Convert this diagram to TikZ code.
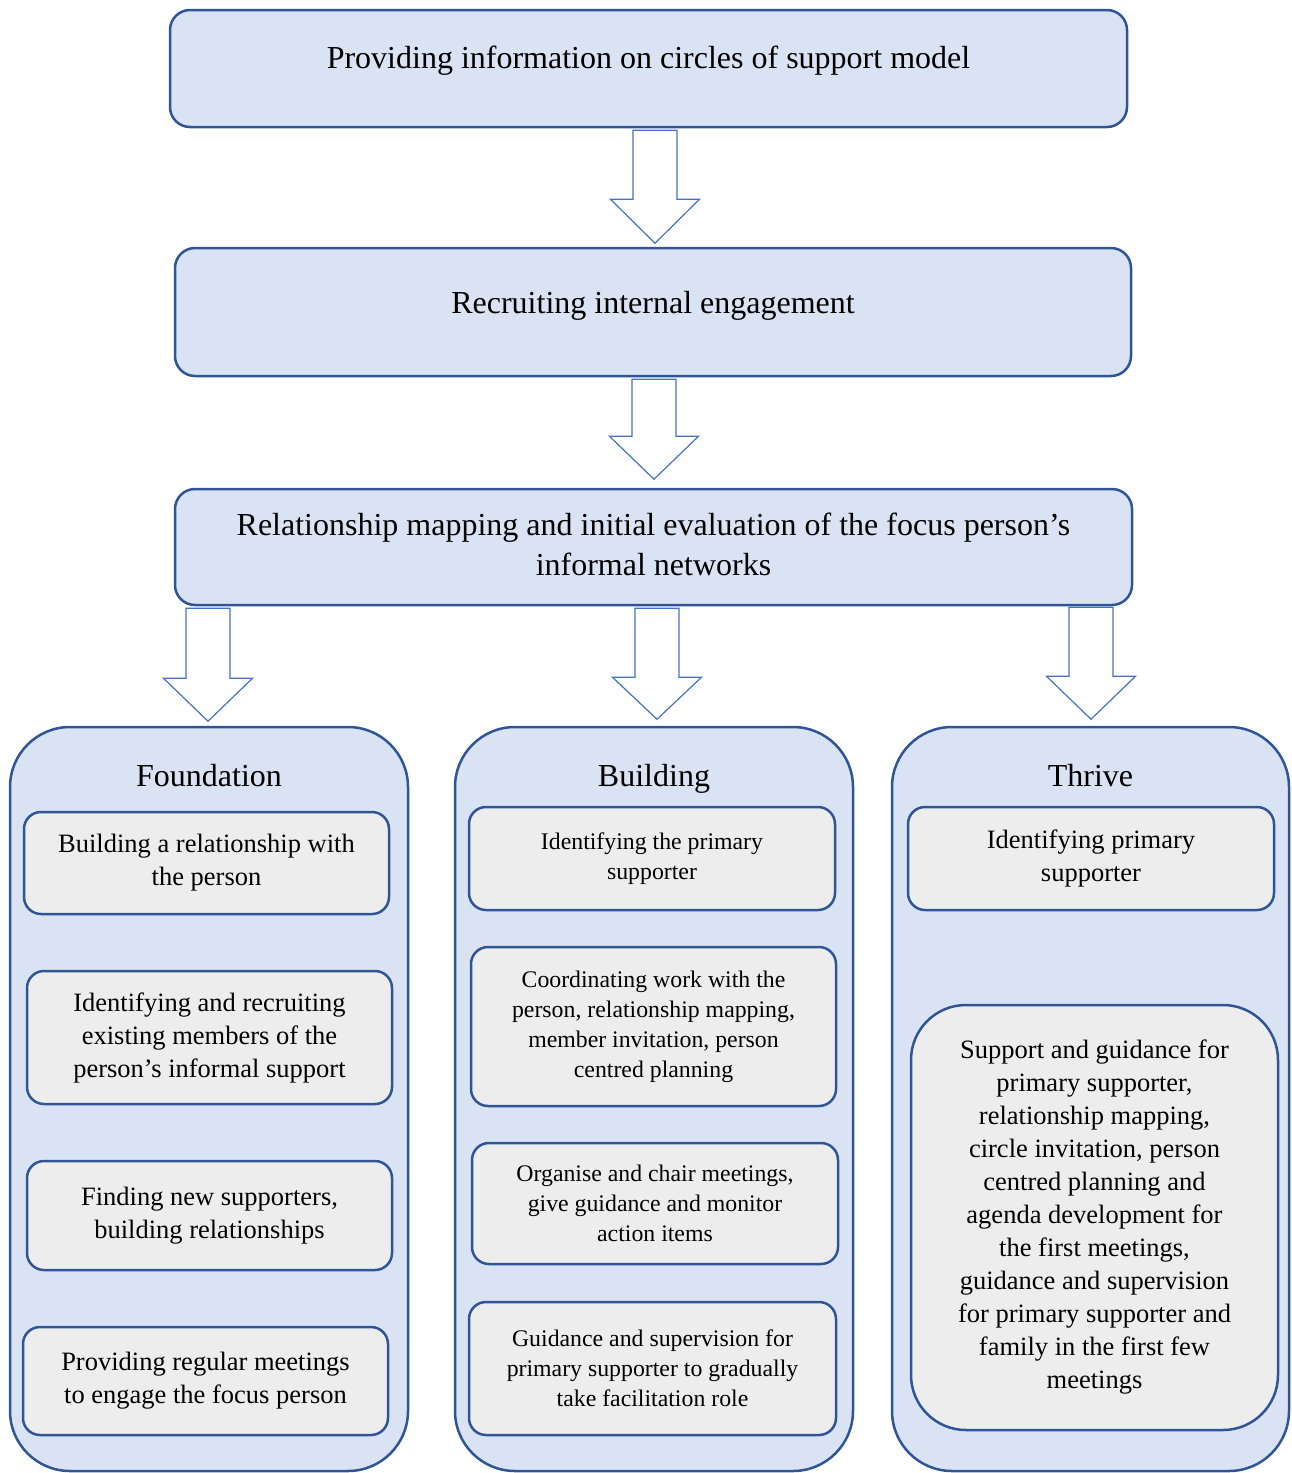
\documentclass[tikz,border=0pt]{standalone}
\usepackage{fontspec}
\setmainfont{Liberation Serif}
\usetikzlibrary{calc}
\definecolor{boxblue}{HTML}{DAE3F3}
\definecolor{itemgray}{HTML}{EDEDED}
\definecolor{bordc}{HTML}{2F5597}
\definecolor{arrowc}{HTML}{4472C4}
\newcommand\fbig{\fontsize{32}{40}\selectfont}
\newcommand\fmid{\fontsize{26.5}{33}\selectfont}
\newcommand\fsml{\fontsize{23.8}{30}\selectfont}
\tikzset{
  topbox/.style={draw=bordc, fill=boxblue, line width=2.5pt, rounded corners=20pt, inner sep=0pt, align=center, font=\fbig},
  colbox/.style={draw=bordc, fill=boxblue, line width=2.5pt, rounded corners=60pt, inner sep=0pt},
  itembox/.style={draw=bordc, fill=itemgray, line width=2.5pt, rounded corners=17pt, inner sep=0pt, align=center},
  coltitle/.style={font=\fbig, inner sep=0pt, anchor=base},
  barrow/.style={draw=arrowc, fill=white, line width=1.2pt, line join=miter},
  pics/downarrow/.style 2 args={code={
    \draw[barrow] (-22,0) -- (-22,#1) -- (-44.5,#1) -- (0,#2) -- (44.5,#1) -- (22,#1) -- (22,0) -- cycle;}}
}
\begin{document}
\begin{tikzpicture}[x=1pt,y=-1pt]
\useasboundingbox (0,0) rectangle (1291,1473);

% top boxes
\node[topbox, minimum width=957pt, minimum height=117pt] (b1) at (648.5,68.5)
  {\raisebox{0pt}[0pt][0pt]{Providing information on circles of support model}};
\node[topbox, minimum width=956pt, minimum height=128pt] (b2) at (653,312)
  {\raisebox{-1.4pt}[0pt][0pt]{Recruiting internal engagement}};
\node[topbox, minimum width=957pt, minimum height=116pt] (b3) at (653.5,547)
  {\raisebox{3pt}{\begin{tabular}{@{}c@{}}Relationship mapping and initial evaluation of the focus person’s\\informal networks\end{tabular}}};

% columns
\node[colbox, minimum width=398pt, minimum height=744pt] (colF) at (209,1099) {};
\node[colbox, minimum width=398pt, minimum height=744pt] (colB) at (654,1099) {};
\node[colbox, minimum width=397pt, minimum height=744pt] (colT) at (1090.5,1099) {};

\node[coltitle] (tF) at ($(colF.north)+(0,61)$) {Foundation};
\node[coltitle] (tB) at ($(colB.north)+(0,61)$) {Building};
\node[coltitle] (tT) at ($(colT.north)+(0,61)$) {Thrive};

% arrows
\pic at ($(b1.south)+(6.5,2)$) {downarrow={69}{113}};
\pic at ($(b2.south)+(1,2)$) {downarrow={57}{100}};
\pic at ($(b3.south -| colF.north)+(-1,2)$) {downarrow={70}{113}};
\pic at ($(b3.south -| colB.north)+(3,2)$) {downarrow={69}{111}};
\pic at ($(b3.south -| colT.north)+(0.5,1)$) {downarrow={69}{112}};

% Foundation items
\node[itembox, font=\fmid, minimum width=365pt, minimum height=102pt] (f1) at (206.5,863)
  {Building a relationship with\\the person};
\node[itembox, font=\fmid, minimum width=365pt, minimum height=133pt] (f2) at (209.5,1037.5)
  {Identifying and recruiting\\existing members of the\\person’s informal support};
\node[itembox, font=\fmid, minimum width=365pt, minimum height=109pt] (f3) at (209.5,1215.5)
  {Finding new supporters,\\building relationships};
\node[itembox, font=\fmid, minimum width=365pt, minimum height=108pt] (f4) at (205.5,1381)
  {Providing regular meetings\\to engage the focus person};

% Building items
\node[itembox, font=\fsml, minimum width=366pt, minimum height=103pt] (bb1) at (652,858.5)
  {\raisebox{3pt}{\begin{tabular}{@{}c@{}}Identifying the primary\\supporter\end{tabular}}};
\node[itembox, font=\fsml, minimum width=365pt, minimum height=159pt] (bb2) at (653.5,1026.5)
  {Coordinating work with the\\person, relationship mapping,\\member invitation, person\\centred planning};
\node[itembox, font=\fsml, minimum width=366pt, minimum height=121pt] (bb3) at (655,1203.5)
  {Organise and chair meetings,\\give guidance and monitor\\action items};
\node[itembox, font=\fsml, minimum width=367pt, minimum height=133pt] (bb4) at (652.5,1368.5)
  {Guidance and supervision for\\primary supporter to gradually\\take facilitation role};

% Thrive items
\node[itembox, font=\fmid, minimum width=366pt, minimum height=103pt] (t1) at (1091,858.5)
  {Identifying primary\\supporter};
\node[itembox, font=\fmid, rounded corners=55pt, minimum width=367pt, minimum height=425pt] (t2) at (1094.5,1217.5)
  {Support and guidance for\\primary supporter,\\relationship mapping,\\circle invitation, person\\centred planning and\\agenda development for\\the first meetings,\\guidance and supervision\\for primary supporter and\\family in the first few\\meetings};
\end{tikzpicture}
\end{document}
